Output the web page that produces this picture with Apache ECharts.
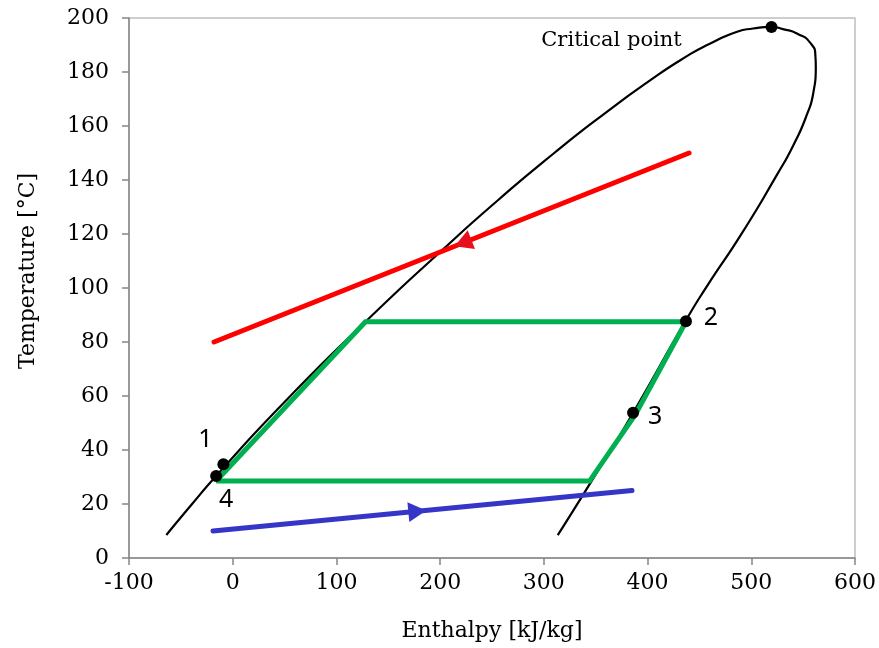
<!DOCTYPE html>
<html>
<head>
<meta charset="utf-8">
<script src="https://cdn.jsdelivr.net/npm/echarts@6/dist/echarts.min.js"></script>
<style>html,body{margin:0;padding:0;background:#fff;}#chart{width:879px;height:648px;}</style>
</head>
<body>
<div id="chart"></div>
<script>
// Saturation dome (enthalpy kJ/kg, temperature °C)
const domeH = [-64, -40, -16, 50, 128, 201, 256, 310, 362, 401, 436, 459, 486.3, 501.7, 519.5, 530.5, 544.5, 557.3, 561.8, 562.2, 560, 553.5, 540.7, 524.7, 491, 457, 436.8, 386.1, 350, 313.4];
const domeT = [8.5, 19.6, 30.4, 57.8, 87.5, 113.7, 132.6, 150, 165.6, 176.5, 185.4, 190.3, 194.9, 196.1, 196.7, 195.9, 194.2, 190.6, 186, 181.4, 172.7, 164.1, 153, 141.9, 120.3, 100.5, 87.9, 53.8, 31, 8.5];
// Cycle (green)
const cycleH = [-16, 128, 437, 388, 344, -16];
const cycleT = [28.5, 87.5, 87.5, 53, 28.5, 28.5];
// Heat source (red) and heat sink (blue)
const sourceH = [-18, 440];
const sourceT = [80, 150];
const sinkH = [-19, 385];
const sinkT = [10, 25];
// Arrow positions
const sourceArrowH = [222];
const sourceArrowT = [116.7];
const sinkArrowH = [178];
const sinkArrowT = [17.3];
// State points
const pointNames = ['Critical point', '1', '2', '3', '4'];
const pointH = [519.5, -9, 437, 386, -16];
const pointT = [196.7, 34.7, 87.7, 53.8, 30.4];
// Axis ticks
const xTicks = [-100, 0, 100, 200, 300, 400, 500, 600];
const yTicks = [0, 20, 40, 60, 80, 100, 120, 140, 160, 180, 200];

const zip = (a, b) => a.map((v, i) => [v, b[i]]);
const serif = 'DejaVu Serif';

const labelStyles = {
  'Critical point': { offset: [-160, 14], fontFamily: serif, fontSize: 21 },
  '1': { offset: [-18, -24] },
  '2': { offset: [25, -3] },
  '3': { offset: [22, 4] },
  '4': { offset: [10, 24] }
};

const chart = echarts.init(document.getElementById('chart'));
chart.setOption({
  animation: false,
  backgroundColor: '#fff',
  grid: { left: 129, right: 21, top: 18, bottom: 90, show: true, borderColor: '#bfbfbf', borderWidth: 1.5 },
  xAxis: {
    type: 'value', min: xTicks[0], max: xTicks[xTicks.length - 1], interval: 100,
    name: 'Enthalpy [kJ/kg]', nameLocation: 'middle', nameGap: 62,
    nameTextStyle: { fontFamily: serif, fontSize: 22, color: '#000' },
    axisLine: { show: true, onZero: false, lineStyle: { color: '#878787', width: 1.5 } },
    axisTick: { show: true, inside: false, length: 7, lineStyle: { color: '#878787', width: 1.5 } },
    axisLabel: { fontFamily: serif, fontSize: 22, color: '#000', margin: 14 },
    splitLine: { show: false }
  },
  yAxis: {
    type: 'value', min: yTicks[0], max: yTicks[yTicks.length - 1], interval: 20,
    name: 'Temperature [°C]', nameLocation: 'middle', nameGap: 90,
    nameTextStyle: { fontFamily: serif, fontSize: 22, color: '#000', padding: [0, 0, 0, 34] },
    axisLine: { show: true, onZero: false, lineStyle: { color: '#878787', width: 1.5 } },
    axisTick: { show: true, inside: false, length: 7, lineStyle: { color: '#878787', width: 1.5 } },
    axisLabel: { fontFamily: serif, fontSize: 22, color: '#000', margin: 20 },
    splitLine: { show: false }
  },
  series: [
    {
      type: 'line', data: zip(domeH, domeT), smooth: 0.6, symbol: 'none',
      lineStyle: { color: '#000', width: 2.2 }, z: 2
    },
    {
      type: 'line', data: zip(sourceH, sourceT), symbol: 'none',
      lineStyle: { color: '#ff0000', width: 5, cap: 'round' }, z: 3
    },
    {
      type: 'line', data: zip(sinkH, sinkT), symbol: 'none',
      lineStyle: { color: '#3535c8', width: 5, cap: 'round' }, z: 3
    },
    {
      type: 'line', data: zip(cycleH, cycleT), symbol: 'none',
      lineStyle: { color: '#00b050', width: 5, join: 'miter' }, z: 4
    },
    {
      type: 'scatter', data: zip(sourceArrowH, sourceArrowT), symbol: 'triangle',
      symbolSize: [20, 18], symbolRotate: 111.5, itemStyle: { color: '#e8101f', opacity: 1 }, z: 5
    },
    {
      type: 'scatter', data: zip(sinkArrowH, sinkArrowT), symbol: 'triangle',
      symbolSize: [20, 18], symbolRotate: -84.5, itemStyle: { color: '#3535c8', opacity: 1 }, z: 5
    },
    {
      type: 'scatter', symbol: 'circle', symbolSize: 12, itemStyle: { color: '#000', opacity: 1 }, z: 6,
      data: pointNames.map((n, i) => ({
        value: [pointH[i], pointT[i]],
        label: Object.assign({
          show: true, position: 'inside', formatter: n, color: '#000',
          fontFamily: 'Noto Sans', fontSize: 25, align: 'center', verticalAlign: 'middle'
        }, labelStyles[n])
      }))
    }
  ]
});
</script>
</body>
</html>
